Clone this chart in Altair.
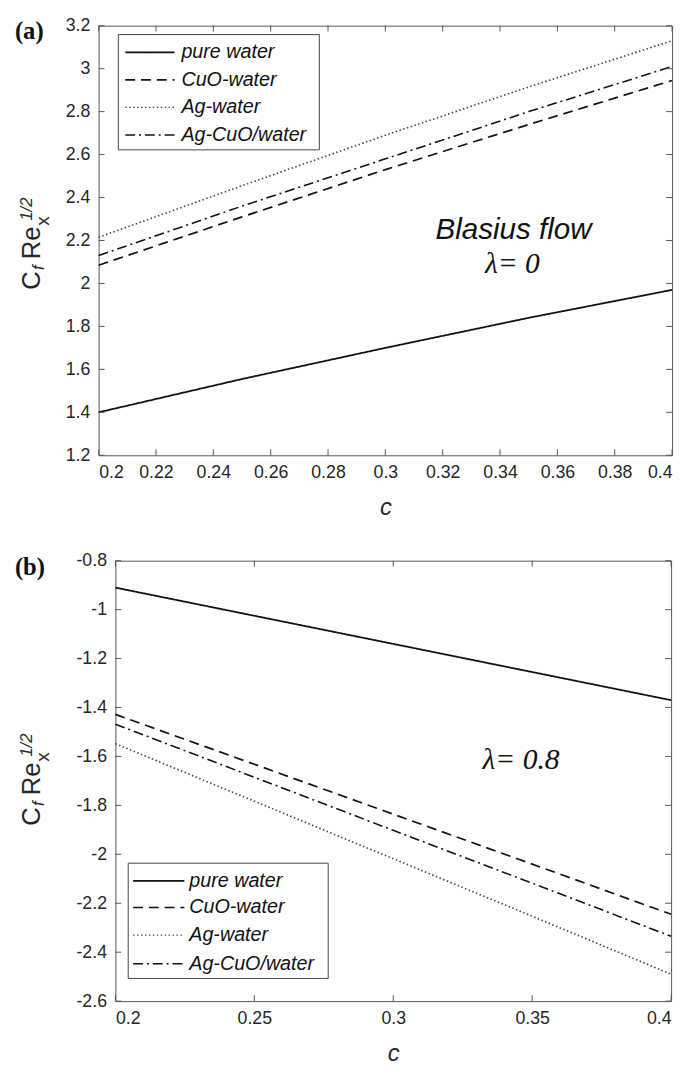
import altair as alt
import pandas as pd

# ---------------- data ----------------
series = ["pure water", "CuO-water", "Ag-water", "Ag-CuO/water"]
c_vals = [0.2, 0.25, 0.3, 0.35, 0.4]

# panel (a): Blasius flow, lambda = 0
pure_a = [1.40, 1.555, 1.70, 1.84, 1.97]
cuo_a = [2.085, 2.31, 2.53, 2.74, 2.945]
ag_a = [2.215, 2.455, 2.69, 2.915, 3.13]
agcuo_a = [2.13, 2.36, 2.58, 2.80, 3.01]

# panel (b): lambda = 0.8
pure_b = [-0.91, -1.025, -1.14, -1.255, -1.37]
cuo_b = [-1.428, -1.632, -1.836, -2.04, -2.245]
ag_b = [-1.548, -1.783, -2.018, -2.253, -2.49]
agcuo_b = [-1.468, -1.685, -1.902, -2.118, -2.335]

xticks_a = [0.2, 0.22, 0.24, 0.26, 0.28, 0.3, 0.32, 0.34, 0.36, 0.38, 0.4]
yticks_a = [1.2, 1.4, 1.6, 1.8, 2, 2.2, 2.4, 2.6, 2.8, 3, 3.2]
xticks_b = [0.2, 0.25, 0.3, 0.35, 0.4]
yticks_b = [-2.6, -2.4, -2.2, -2, -1.8, -1.6, -1.4, -1.2, -1, -0.8]

dashes = [[1, 0], [10, 6], [1.5, 2.5], [10, 4, 2, 4]]
colors = ["#111111", "#111111", "#444444", "#111111"]
widths = [1.8, 1.6, 1.3, 1.6]

AX = "#555555"
TXT = "#262626"
SANS = "Liberation Sans"
SERIF = "Liberation Serif"


def long_df(vals):
    rows = []
    for name, ys in zip(series, vals):
        for x, y in zip(c_vals, ys):
            rows.append({"c": x, "val": y, "series": name})
    return pd.DataFrame(rows)


def legend_layers(box, rows, line_x, text_x):
    out = [alt.Chart(pd.DataFrame({"k": [0]})).mark_rect(
        fill="white", stroke="#444444", strokeWidth=1).encode(
        x=alt.value(box[0]), x2=alt.value(box[1]),
        y=alt.value(box[2]), y2=alt.value(box[3]))]
    for i, name in enumerate(series):
        out.append(alt.Chart(pd.DataFrame({"t": [name]})).mark_rule(
            color=colors[i], strokeDash=dashes[i], strokeWidth=widths[i]).encode(
            x=alt.value(line_x[0]), x2=alt.value(line_x[1]),
            y=alt.value(rows[i])))
        out.append(alt.Chart(pd.DataFrame({"t": [name]})).mark_text(
            font=SANS, fontStyle="italic", fontSize=20, color="#111111",
            align="left", baseline="middle").encode(
            x=alt.value(text_x), y=alt.value(rows[i]), text="t:N"))
    return out


def panel(vals, xticks, yticks, xdom, ydom, W, H, leg, annos,
          tag, tag_x, tag_y, title_x, title_y):
    xs = alt.Scale(domain=xdom, nice=False, zero=False)
    ys = alt.Scale(domain=ydom, nice=False, zero=False)
    lines = alt.Chart(long_df(vals)).mark_line().encode(
        x=alt.X("c:Q", scale=xs,
                axis=alt.Axis(values=xticks, labelExpr="'' + datum.value",
                              title="c", titleFont=SANS, titleFontStyle="italic",
                              titleFontSize=24, titleFontWeight="normal",
                              titleColor=TXT, titlePadding=14)),
        y=alt.Y("val:Q", scale=ys,
                axis=alt.Axis(values=yticks, labelExpr="'' + datum.value", title=None)),
        color=alt.Color("series:N", scale=alt.Scale(domain=series, range=colors), legend=None),
        strokeDash=alt.StrokeDash("series:N", scale=alt.Scale(domain=series, range=dashes), legend=None),
        strokeWidth=alt.StrokeWidth("series:N", scale=alt.Scale(domain=series, range=widths), legend=None),
        order=alt.Order("c:Q"),
    )
    xt = pd.DataFrame({"v": xticks})
    yt = pd.DataFrame({"v": yticks})
    tick_top = alt.Chart(xt).mark_rule(color=AX).encode(
        x=alt.X("v:Q", scale=xs), y=alt.value(0), y2=alt.value(6))
    tick_bot = alt.Chart(xt).mark_rule(color=AX).encode(
        x=alt.X("v:Q", scale=xs), y=alt.value(H), y2=alt.value(H - 6))
    tick_left = alt.Chart(yt).mark_rule(color=AX).encode(
        y=alt.Y("v:Q", scale=ys), x=alt.value(0), x2=alt.value(6))
    tick_right = alt.Chart(yt).mark_rule(color=AX).encode(
        y=alt.Y("v:Q", scale=ys), x=alt.value(W), x2=alt.value(W - 6))

    layers = [lines, tick_top, tick_bot, tick_left, tick_right]
    layers += legend_layers(*leg)
    for (t, ax, ay, font, style, size) in annos:
        layers.append(alt.Chart(pd.DataFrame({"t": [t], "c": [ax], "val": [ay]})).mark_text(
            font=font, fontStyle=style, fontSize=size, color="#111111",
            align="center", baseline="alphabetic").encode(
            x=alt.X("c:Q", scale=xs), y=alt.Y("val:Q", scale=ys),
            text="t:N"))
    # panel tag
    layers.append(alt.Chart(pd.DataFrame({"t": [tag]})).mark_text(
        font=SERIF, fontWeight="bold", fontSize=25, color="#111111",
        align="left", baseline="alphabetic").encode(
        x=alt.value(tag_x), y=alt.value(tag_y), text="t:N"))
    # y-axis title  C_f Re_x^{1/2}, rotated
    parts = [("C", 0, 0, 26, "normal"), ("f", 20, 5, 17, "italic"),
             ("Re", 31, 0, 26, "normal"), ("x", 65, 10, 19, "normal"),
             ("1/2", 70, -8, 17, "italic")]
    for (t, dy, dx, size, style) in parts:
        layers.append(alt.Chart(pd.DataFrame({"t": [t]})).mark_text(
            font=SANS, fontSize=size, fontStyle=style, color=TXT, angle=270,
            align="left", baseline="alphabetic").encode(
            x=alt.value(title_x + dx), y=alt.value(title_y - dy), text="t:N"))
    return alt.layer(*layers).properties(width=W, height=H)


def spacer():
    # invisible 1px cell so that each panel is placed by its own left extent
    return alt.Chart(pd.DataFrame({"k": [0]})).mark_point(opacity=0).encode(
        x=alt.value(0), y=alt.value(0)
    ).properties(width=1, height=1, view=alt.ViewBackground(strokeOpacity=0))


Wa, Ha = 582, 436
Wb, Hb = 564, 447

pa = panel([pure_a, cuo_a, ag_a, agcuo_a], xticks_a, yticks_a, [0.2, 0.4], [1.2, 3.2],
           Wa, Ha,
           ((20, 224, 9, 126), (27, 55, 83, 111), (27, 77), 84),
           [("Blasius flow", 0.3447, 2.205, SANS, "italic", 30),
            ("\u03bb= 0", 0.3443, 2.047, SERIF, "italic", 30)],
           "(a)", -85, 14, -60, 268)
pb = panel([pure_b, cuo_b, ag_b, agcuo_b], xticks_b, yticks_b, [0.2, 0.4], [-2.6, -0.8],
           Wb, Hb,
           ((13, 216, 307, 424), (325, 352, 380, 409), (18, 70), 75),
           [("\u03bb= 0.8", 0.346, -1.65, SERIF, "italic", 30)],
           "(b)", -102, 15, -77, 269)

row_a = alt.hconcat(spacer(), pa, spacing=0)
row_b = alt.hconcat(spacer(), pb, spacing=0)

chart = alt.vconcat(row_a, row_b, spacing=31).properties(
    padding=0, background="white"
).configure_view(
    stroke=AX, strokeWidth=1
).configure_axis(
    domain=False, ticks=False, grid=False, labelFont=SANS, labelFontSize=18,
    labelColor=TXT, labelPadding=9
)

chart.save("out.html", embed_options={"renderer": "svg", "actions": False})
